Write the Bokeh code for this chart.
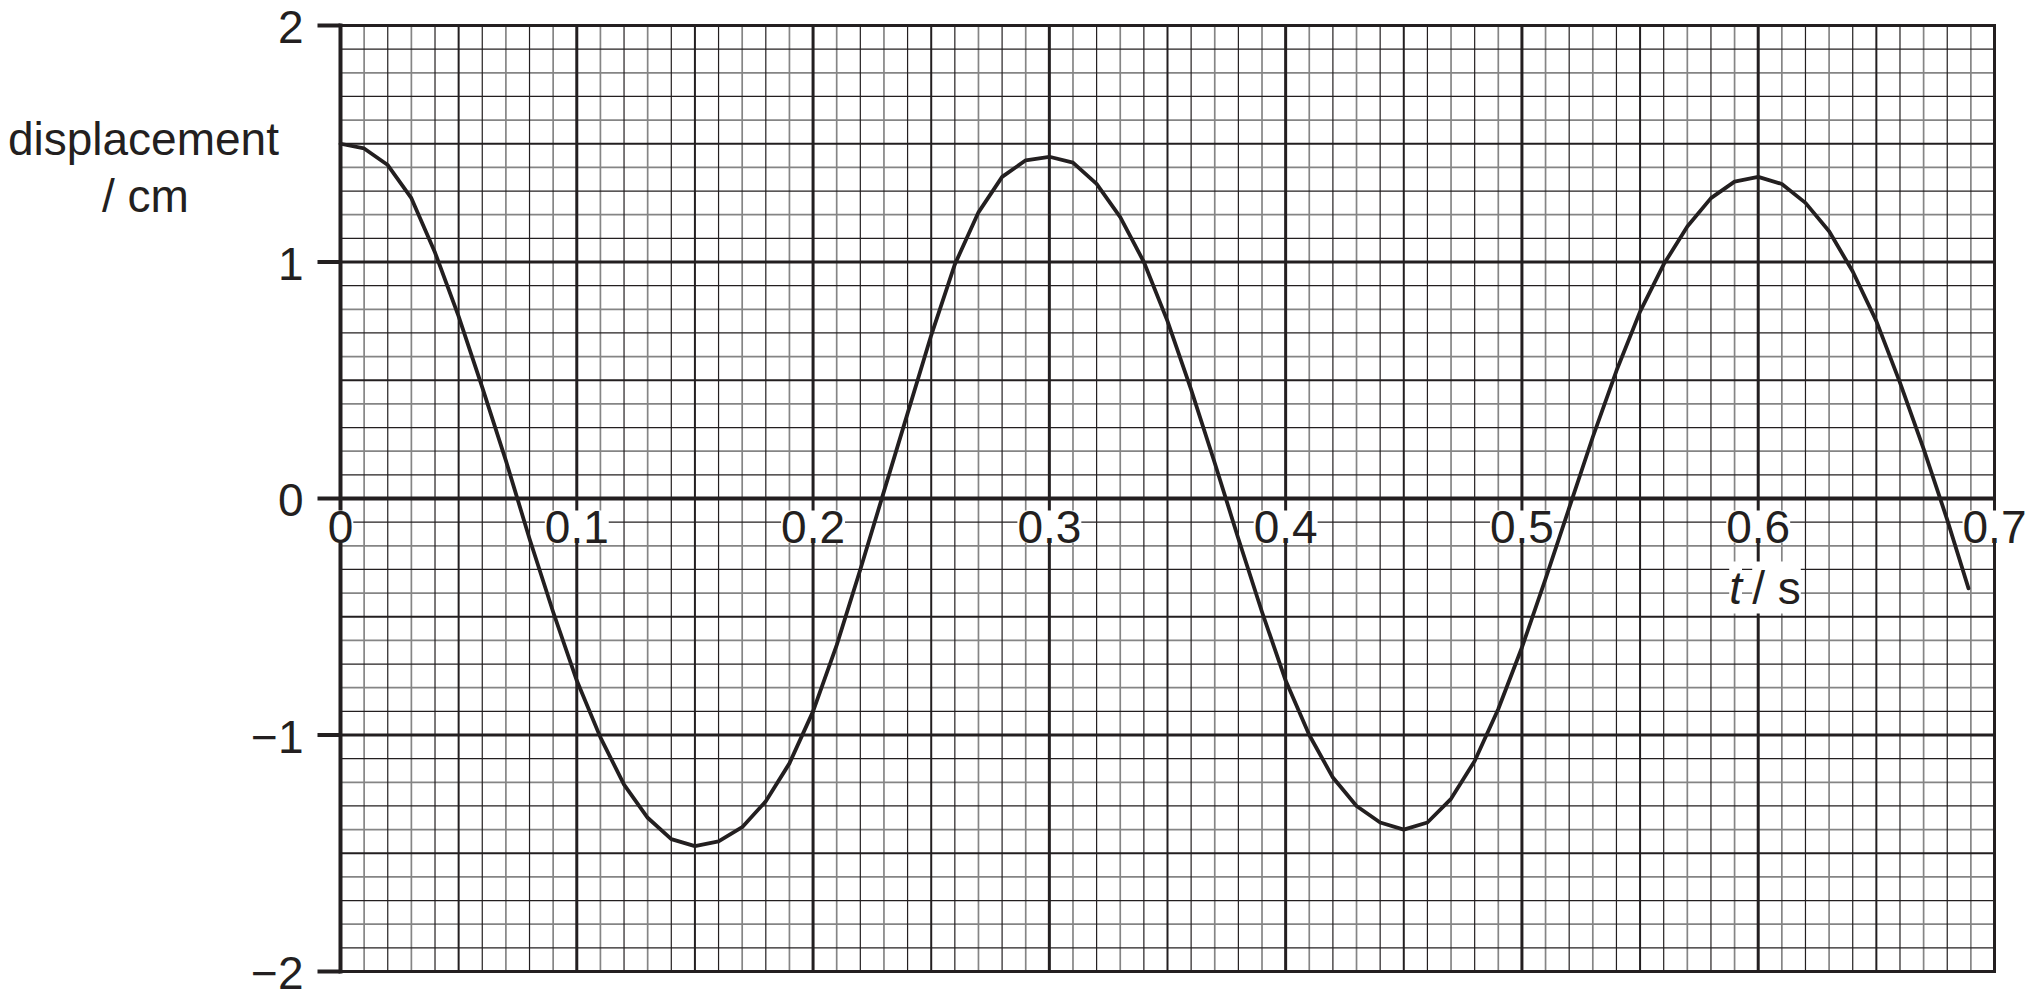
import numpy as np
from bokeh.plotting import figure
from bokeh.models import Range1d, LabelSet, ColumnDataSource
from bokeh.core.properties import value
from bokeh.embed import file_html
from bokeh.resources import INLINE

# ---- data ----
t_s = [0.00, 0.01, 0.02, 0.03, 0.04, 0.05, 0.06, 0.07, 0.08, 0.09,
       0.10, 0.11, 0.12, 0.13, 0.14, 0.15, 0.16, 0.17, 0.18, 0.19,
       0.20, 0.21, 0.22, 0.23, 0.24, 0.25, 0.26, 0.27, 0.28, 0.29,
       0.30, 0.31, 0.32, 0.33, 0.34, 0.35, 0.36, 0.37, 0.38, 0.39,
       0.40, 0.41, 0.42, 0.43, 0.44, 0.45, 0.46, 0.47, 0.48, 0.49,
       0.50, 0.51, 0.52, 0.53, 0.54, 0.55, 0.56, 0.57, 0.58, 0.59,
       0.60, 0.61, 0.62, 0.63, 0.64, 0.65, 0.66, 0.67, 0.68, 0.689]
disp_cm = [1.50, 1.48, 1.41, 1.27, 1.04, 0.77, 0.47, 0.16, -0.17, -0.48,
           -0.77, -1.01, -1.21, -1.35, -1.44, -1.47, -1.45, -1.39, -1.28, -1.12,
           -0.90, -0.62, -0.30, 0.03, 0.36, 0.69, 0.99, 1.21, 1.36, 1.43,
           1.445, 1.42, 1.33, 1.19, 1.00, 0.75, 0.46, 0.15, -0.17, -0.48,
           -0.77, -1.00, -1.18, -1.30, -1.37, -1.40, -1.37, -1.27, -1.11, -0.89,
           -0.63, -0.34, -0.04, 0.26, 0.54, 0.79, 0.99, 1.15, 1.27, 1.34,
           1.36, 1.33, 1.25, 1.13, 0.96, 0.75, 0.49, 0.21, -0.09, -0.38]

x_ticks = [0, 0.1, 0.2, 0.3, 0.4, 0.5, 0.6, 0.7]
x_tick_labels = ["0", "0.1", "0.2", "0.3", "0.4", "0.5", "0.6", "0.7"]
y_ticks = [-2, -1, 0, 1, 2]
y_tick_labels = ["\u22122", "\u22121", "0", "1", "2"]
y_title = ["displacement", "/ cm"]
x_title_italic = "t"
x_title_rest = "/ s"

INK = "#231f20"
GRAY = "#858585"
FONT = "Liberation Sans"
FS = "46px"

# ---- layout: the frame fills the whole figure; graph paper spans 0..0.7, -2..2 ----
W, H = 2035, 999
PX_X = 2362.9          # pixels per second
PX_Y = 236.5           # pixels per cm
LEFT, RIGHT, TOP, BOTTOM = 340, 41, 25, 28   # pixel margins around the paper
x_lo, x_hi = 0.0, 0.7
y_lo, y_hi = -2.0, 2.0

p = figure(width=W, height=H,
           x_range=Range1d(x_lo - LEFT / PX_X, x_hi + RIGHT / PX_X),
           y_range=Range1d(y_lo - BOTTOM / PX_Y, y_hi + TOP / PX_Y),
           output_backend="svg", toolbar_location=None,
           x_axis_location=None, y_axis_location=None, min_border=0)
p.background_fill_color = "white"
p.border_fill_color = "white"
p.outline_line_color = None
p.grid.visible = False

# graph-paper grid: x every 0.01 s, y every 0.1 cm
xi = range(0, 71)
x_gray = [round(i * 0.01, 2) for i in xi if i % 2 == 1 and i % 10 != 5]
x_dark = [round(i * 0.01, 2) for i in xi if i % 2 == 0 and i % 10 != 0]
x_half = [round(i * 0.01, 2) for i in xi if i % 10 == 5]
x_major = [round(i * 0.01, 2) for i in xi if i % 10 == 0]
yi = range(-20, 21)
y_gray = [round(i * 0.1, 1) for i in yi if i % 2 == 0 and i % 5 != 0]
y_dark = [round(i * 0.1, 1) for i in yi if i % 2 != 0 and i % 5 != 0]
y_half = [round(i * 0.1, 1) for i in yi if i % 5 == 0 and i % 10 != 0]
y_major = [round(i * 0.1, 1) for i in yi if i % 10 == 0]


def vlines(xs, color, width, cap="butt"):
    n = len(xs)
    p.segment(x0=xs, y0=[y_lo] * n, x1=xs, y1=[y_hi] * n,
              line_color=color, line_width=width, line_cap=cap)


def hlines(ys, color, width, cap="butt"):
    n = len(ys)
    p.segment(x0=[x_lo] * n, y0=ys, x1=[x_hi] * n, y1=ys,
              line_color=color, line_width=width, line_cap=cap)


vlines(x_gray, GRAY, 1.7)
hlines(y_gray, GRAY, 1.7)
vlines(x_dark, INK, 1.2)
hlines(y_dark, INK, 1.2)
vlines(x_half, INK, 2.0)
hlines(y_half, INK, 2.0)
vlines(x_major, INK, 3.0, "square")
hlines(y_major, INK, 3.0, "square")

# axis lines (t = 0 and displacement = 0) and y ticks
vlines([0], INK, 4.0, "square")
hlines([0], INK, 4.0)
p.ray(x=[0] * len(y_ticks), y=y_ticks, length=23, length_units="screen",
      angle=np.pi, line_color=INK, line_width=4)

# the curve
p.line(t_s, disp_cm, line_color=INK, line_width=3.8, line_join="round", line_cap="round")


def labels(xs, ys, texts, align, x_off, y_off, bg=None, style="normal"):
    src = ColumnDataSource(dict(x=xs, y=ys, text=texts))
    p.add_layout(LabelSet(source=src, x="x", y="y", text="text",
                          text_align=align, text_baseline="alphabetic",
                          x_offset=x_off, y_offset=y_off,
                          text_font=value(FONT), text_font_size=value(FS),
                          text_font_style=value(style), text_color=INK,
                          background_fill_color=bg))


# y tick labels
labels([0] * len(y_ticks), y_ticks, y_tick_labels, "right", -37, -17.5)
# x tick labels on white boxes just below the time axis
labels(x_ticks, [0] * len(x_ticks), x_tick_labels, "center", 0, -44, bg="white")
# t / s
labels([0.6], [0], [x_title_italic], "left", -29, -105, bg="white", style="italic")
labels([0.6], [0], [x_title_rest], "left", -6, -105, bg="white")
# displacement / cm
labels([-0.0834], [1.4516], [y_title[0]], "center", 0, 0)
labels([-0.0826], [1.2106], [y_title[1]], "center", 0, 0)

open("out.html", "w").write(file_html(p, INLINE))
